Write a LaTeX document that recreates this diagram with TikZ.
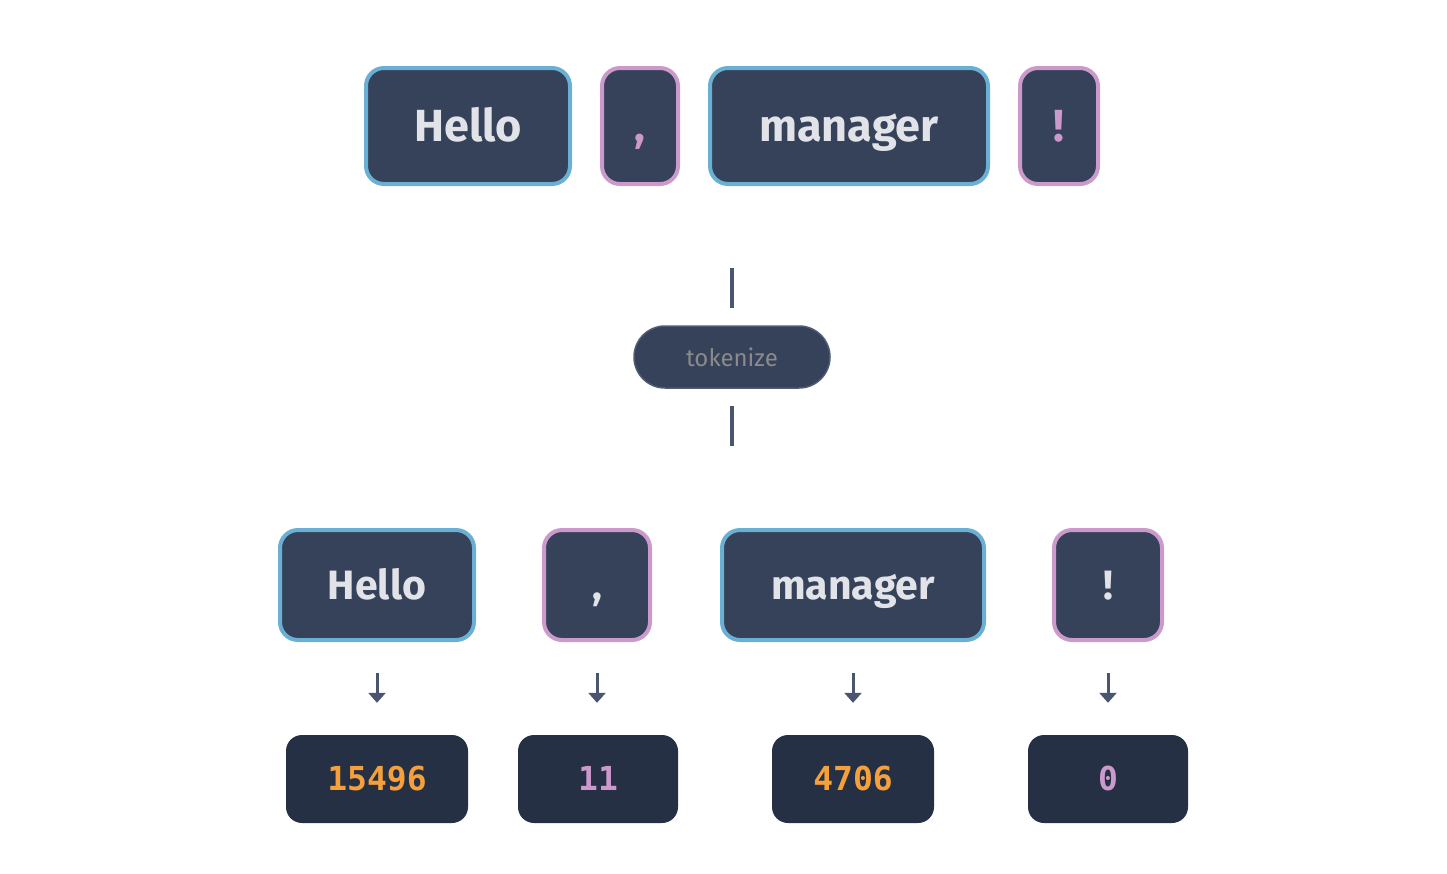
\documentclass[tikz,border=0pt]{standalone}
\usepackage{fontspec}
\setmainfont{Fira Sans}
\newfontfamily\labfont{Fira Sans}
\newfontfamily\numfont{DejaVu Sans Mono Bold}
\usetikzlibrary{arrows.meta}
\definecolor{tokfill}{HTML}{354259}
\definecolor{idfill}{HTML}{253045}
\definecolor{bluebd}{HTML}{6AB0D4}
\definecolor{pinkbd}{HTML}{CC99CC}
\definecolor{txtwhite}{HTML}{E2E3E8}
\definecolor{orangetx}{HTML}{F5A03A}
\definecolor{linec}{HTML}{4A5670}
\definecolor{pillbd}{HTML}{4E5C76}
\definecolor{graytx}{HTML}{8A8A8A}
\tikzset{
  tokbox/.style={draw, line width=4pt, fill=tokfill, rounded corners=18pt, inner sep=0pt,
    text=txtwhite, text depth=0pt},
  bigtok/.style={tokbox, minimum height=116pt, font=\labfont\bfseries\fontsize{45}{45}\selectfont, text height=30pt},
  smalltok/.style={tokbox, minimum height=110pt, font=\labfont\bfseries\fontsize{41}{41}\selectfont, text height=28pt},
  wordbox/.style={draw=bluebd},
  punctbox/.style={draw=pinkbd},
  idbox/.style={fill=idfill, rounded corners=16pt, inner sep=0pt, minimum height=88pt,
    font=\numfont\fontsize{33}{33}\selectfont, text height=23pt, text depth=0pt},
  pill/.style={draw=pillbd, line width=1.5pt, fill=tokfill, rounded corners=31pt, inner sep=0pt,
    minimum width=196pt, minimum height=62pt, text=graytx,
    font=\labfont\fontsize{24}{24}\selectfont, text height=19pt, text depth=0pt},
  flow/.style={draw=linec, line width=4pt},
  idarrow/.style={draw=linec, line width=3pt, -{Triangle[width=17pt,length=10pt]},
    shorten <=31pt, shorten >=32pt},
}
\begin{document}
\begin{tikzpicture}[x=1pt,y=-1pt]
\useasboundingbox (0,0) rectangle (1447,873);
% top row
\node[bigtok, wordbox, minimum width=204pt] (t1) at (468,126) {Hello};
\node[bigtok, punctbox, minimum width=76pt, text=pinkbd] (t2) at (640,126) {,};
\node[bigtok, wordbox, minimum width=278pt] (t3) at (849,126) {manager};
\node[bigtok, punctbox, minimum width=78pt, text=pinkbd] (t4) at (1059,126) {!};
% tokenize
\coordinate (topmid) at (732,187);
\coordinate (botmid) at (732,527);
\node[pill] (tok) at (732,357) {tokenize};
\draw[flow, shorten <=81pt, shorten >=17pt] (topmid) -- (tok);
\draw[flow, shorten <=17pt, shorten >=81pt] (tok) -- (botmid);
% bottom row
\node[smalltok, wordbox, minimum width=194pt] (b1) at (377,585) {Hello};
\node[smalltok, punctbox, minimum width=106pt] (b2) at (597,585) {,};
\node[smalltok, wordbox, minimum width=262pt] (b3) at (853,585) {manager};
\node[smalltok, punctbox, minimum width=108pt] (b4) at (1108,585) {!};
% ids
\node[idbox, minimum width=182pt, text=orangetx] (i1) at (377,779) {15496};
\node[idbox, minimum width=160pt, text=pinkbd] (i2) at (598,779) {11};
\node[idbox, minimum width=162pt, text=orangetx] (i3) at (853,779) {4706};
\node[idbox, minimum width=160pt, text=pinkbd] (i4) at (1108,779) {0};
\draw[idarrow] (b1) -- (i1);
\draw[idarrow] (b2.south) -- (b2.south |- i2.north);
\draw[idarrow] (b3) -- (i3);
\draw[idarrow] (b4) -- (i4);
\end{tikzpicture}
\end{document}
